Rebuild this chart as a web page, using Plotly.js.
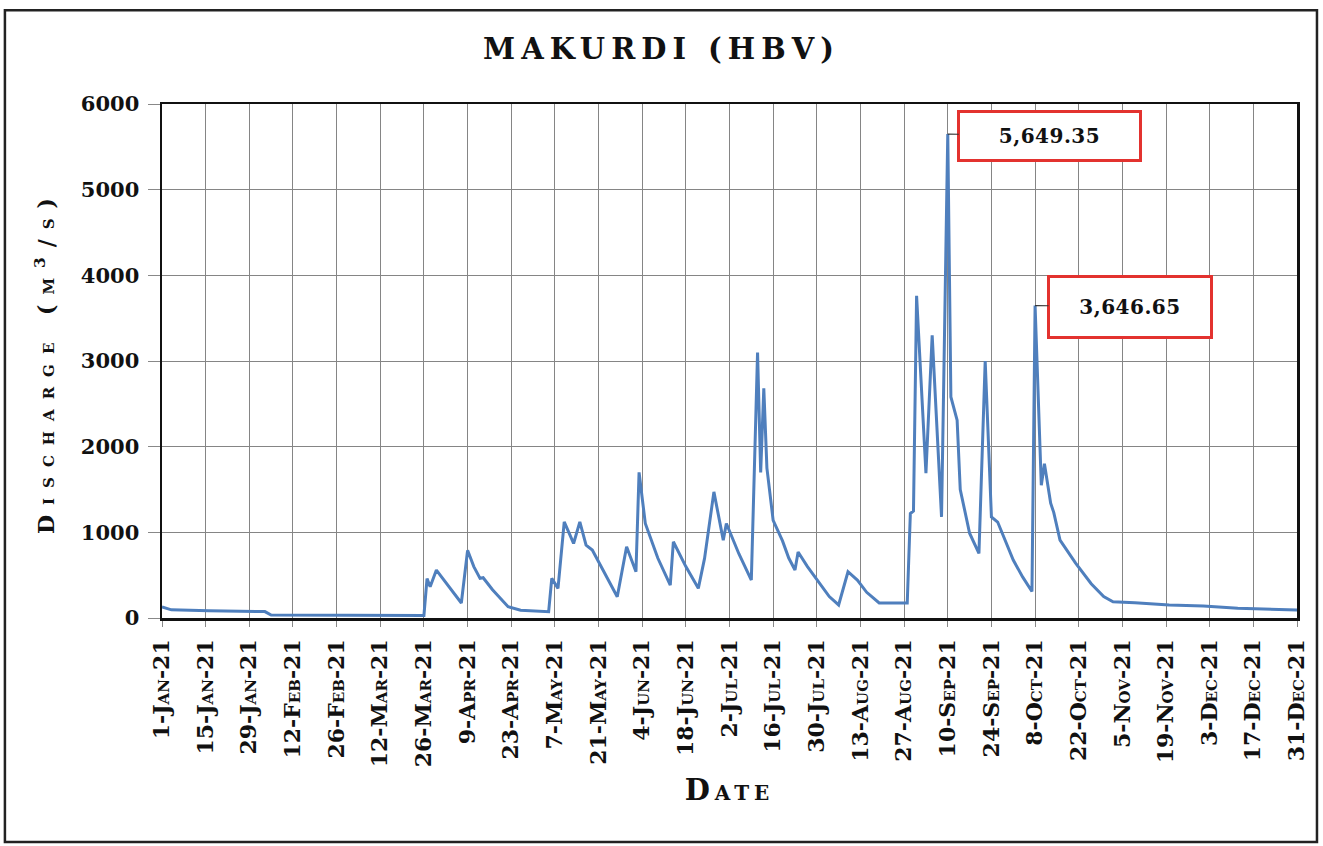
<!DOCTYPE html>
<html>
<head>
<meta charset="utf-8">
<script src="https://cdn.plot.ly/plotly-3.0.1.min.js"></script>
<style>
  html, body { margin: 0; padding: 0; background: #fff; }
  #chart { width: 1323px; height: 846px; }
  .gtitle { letter-spacing: 6px; }
  .ytitle { letter-spacing: 10px; }
  .xtitle { letter-spacing: 5px; }
  .annotation-text { letter-spacing: 0.5px; }
</style>
</head>
<body>
<div id="chart"></div>
<script>
// ---- data ----
const dates = [
  '2021-01-01','2021-01-04','2021-01-16','2021-02-03','2021-02-05','2021-03-26','2021-03-27','2021-03-28',
  '2021-03-30','2021-04-02','2021-04-05','2021-04-07','2021-04-09','2021-04-11','2021-04-13','2021-04-14',
  '2021-04-17','2021-04-22','2021-04-26','2021-05-05','2021-05-06','2021-05-08','2021-05-10','2021-05-13',
  '2021-05-15','2021-05-17','2021-05-19','2021-05-23','2021-05-27','2021-05-30','2021-06-02','2021-06-03',
  '2021-06-05','2021-06-09','2021-06-13','2021-06-14','2021-06-18','2021-06-22','2021-06-24','2021-06-27',
  '2021-06-30','2021-07-01','2021-07-05','2021-07-09','2021-07-11','2021-07-12','2021-07-13','2021-07-14',
  '2021-07-16','2021-07-19','2021-07-21','2021-07-23','2021-07-24','2021-07-27','2021-07-31','2021-08-03',
  '2021-08-06','2021-08-09','2021-08-12','2021-08-15','2021-08-19','2021-08-28','2021-08-29','2021-08-30',
  '2021-08-31','2021-09-03','2021-09-05','2021-09-08','2021-09-10','2021-09-11','2021-09-13','2021-09-14',
  '2021-09-17','2021-09-20','2021-09-22','2021-09-24','2021-09-26','2021-10-01','2021-10-04','2021-10-07',
  '2021-10-08','2021-10-10','2021-10-11','2021-10-13','2021-10-14','2021-10-16','2021-10-21','2021-10-26',
  '2021-10-30','2021-11-02','2021-11-09','2021-11-20','2021-12-01','2021-12-12','2021-12-31'
];
const discharge = [
  130, 95, 85, 75, 35, 30, 460, 365,
  560, 420, 280, 175, 790, 600, 463, 470,
  330, 132, 90, 74, 463, 346, 1122, 870,
  1122, 851, 793, 520, 249, 831, 540, 1700,
  1103, 700, 385, 890, 600, 346, 696, 1472,
  909, 1103, 750, 443, 3100, 1700, 2680, 1750,
  1140, 900, 700, 560, 770, 600, 400, 250,
  152, 540, 443, 300, 175, 175, 1220, 1250,
  3760, 1690, 3300, 1180, 5649.35, 2580, 2310, 1500,
  990, 754, 3000, 1180, 1120, 676, 480, 310,
  3646.65, 1550, 1800, 1340, 1230, 910, 640, 400,
  250, 190, 178, 152, 140, 113, 93
];
const labelledDates = ['2021-09-10', '2021-10-08'];
const chartTitle = 'MAKURDI (HBV)';
const xTitle = 'Date';
const yTitle = 'Discharge (m<sup>3</sup>/s)';
// ----------------------------------------------

const serif = 'DejaVu Serif, Liberation Serif, serif';

function labelFor(d) {
  const v = discharge[dates.indexOf(d)];
  return v.toLocaleString('en-US', {minimumFractionDigits: 2, maximumFractionDigits: 2});
}

const trace = {
  type: 'scatter',
  mode: 'lines',
  x: dates,
  y: discharge,
  line: {color: '#4f7fbd', width: 3},
  hoverinfo: 'skip'
};

const boxStyle = [
  {ax: 102, ay: 2, width: 177, height: 44},
  {ax: 95, ay: 1, width: 158, height: 56}
];

const annotations = labelledDates.map((d, i) => ({
  x: d,
  y: discharge[dates.indexOf(d)],
  xref: 'x', yref: 'y',
  text: '<b>' + labelFor(d) + '</b>',
  showarrow: true,
  arrowhead: 0,
  arrowwidth: 1.2,
  arrowcolor: '#333',
  ax: boxStyle[i].ax,
  ay: boxStyle[i].ay,
  width: boxStyle[i].width,
  height: boxStyle[i].height,
  align: 'center',
  valign: 'middle',
  bgcolor: '#ffffff',
  bordercolor: '#e3322f',
  borderwidth: 3,
  borderpad: 1,
  font: {family: serif, size: 20, color: '#111'}
}));

const layout = {
  width: 1323,
  height: 846,
  paper_bgcolor: '#ffffff',
  plot_bgcolor: '#ffffff',
  showlegend: false,
  margin: {l: 162, r: 26, t: 104, b: 228},
  title: {
    text: '<b>' + chartTitle + '</b>',
    x: 0.5, xref: 'container', xanchor: 'center',
    y: 0.942, yref: 'container', yanchor: 'middle',
    font: {family: serif, size: 29, color: '#111'}
  },
  xaxis: {
    type: 'date',
    range: ['2021-01-01', '2021-12-31'],
    tick0: '2021-01-01',
    dtick: 14 * 86400000,
    tickformat: '%-d-%b-%y',
    tickangle: -90,
    tickfont: {family: serif, size: 22, color: '#111', weight: 'bold', variant: 'small-caps'},
    ticks: 'outside', ticklen: 6, tickcolor: '#888', tickwidth: 1,
    ticklabelstandoff: 4,
    showgrid: true, gridcolor: '#858585', gridwidth: 1,
    showline: true, linecolor: '#111', linewidth: 2.5, mirror: true,
    zeroline: false,
    title: {
      text: '<b>' + xTitle + '</b>',
      standoff: 14,
      font: {family: serif, size: 29, color: '#111', variant: 'small-caps'}
    }
  },
  yaxis: {
    range: [0, 6000],
    dtick: 1000,
    tickformat: 'd',
    tickfont: {family: serif, size: 21, color: '#111', weight: 'bold'},
    ticks: 'outside', ticklen: 12, tickcolor: '#888', tickwidth: 1,
    ticklabelstandoff: 4,
    showgrid: true, gridcolor: '#858585', gridwidth: 1,
    showline: true, linecolor: '#111', linewidth: 2.5, mirror: true,
    zeroline: false,
    title: {
      text: '<b>' + yTitle + '</b>',
      standoff: 20,
      font: {family: serif, size: 22, color: '#111', variant: 'small-caps'}
    }
  },
  annotations: annotations,
  shapes: [{
    type: 'rect', xref: 'paper', yref: 'paper',
    x0: -0.1384, x1: 1.0176, y0: -0.4358, y1: 1.1826,
    line: {color: '#222', width: 2.5},
    fillcolor: 'rgba(0,0,0,0)',
    layer: 'below'
  }]
};

Plotly.newPlot('chart', [trace], layout, {displayModeBar: false, staticPlot: true});
</script>
</body>
</html>
